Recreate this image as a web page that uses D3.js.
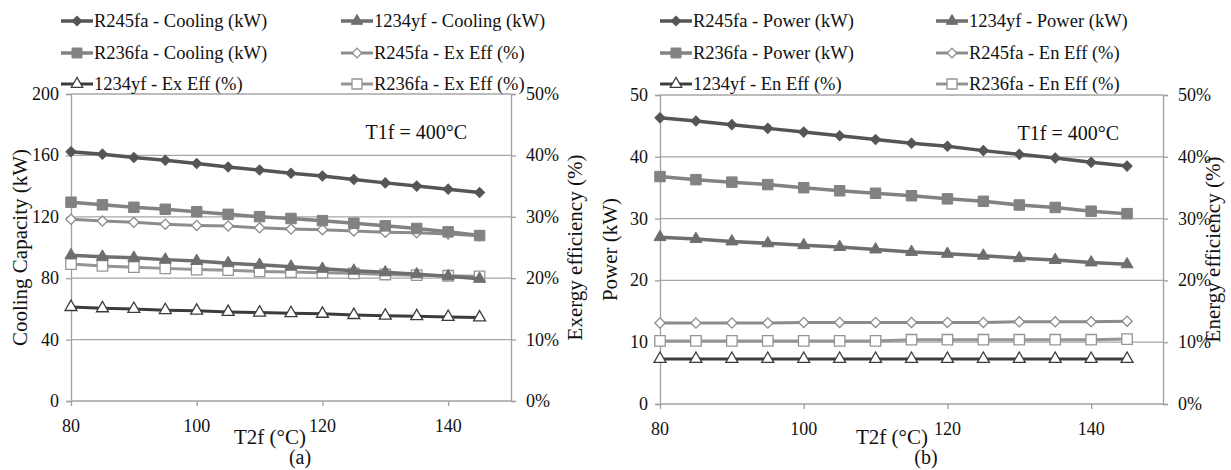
<!DOCTYPE html>
<html>
    <head>
        <meta charset='UTF-8'>
        <script src='https://d3js.org/d3.v7.min.js'></script>
        <style type='text/css'>
        body {
            margin: 0;
            background: white;
            font-family: 'Liberation Serif';
        }
        </style>
    </head>
    <body>
    <script>
        // temperatures on the x axis
        var t2f = [80, 85, 90, 95, 100, 105, 110, 115, 120, 125, 130, 135, 140, 145];
        var xTicks = [80, 100, 120, 140];

        // (a) cooling capacity (kW) and exergy efficiency (%)
        var coolR245fa  = [162.4, 160.8, 158.6, 156.8, 154.7, 152.4, 150.5, 148.4, 146.6, 144.3, 142.1, 140.0, 138.0, 135.8];
        var coolR1234yf = [95.0, 94.0, 93.3, 92.1, 91.2, 89.8, 88.7, 87.5, 86.1, 84.9, 83.8, 82.5, 81.3, 79.6];
        var coolR236fa  = [129.5, 127.8, 126.2, 124.9, 123.3, 121.6, 120.1, 118.9, 117.5, 115.8, 114.1, 112.4, 110.2, 107.8];
        var exR245fa    = [29.6, 29.3, 29.1, 28.8, 28.6, 28.5, 28.2, 28.0, 27.9, 27.7, 27.5, 27.4, 27.2, 26.9];
        var exR1234yf   = [15.3, 15.1, 15.0, 14.8, 14.7, 14.5, 14.4, 14.3, 14.2, 14.0, 13.9, 13.8, 13.7, 13.6];
        var exR236fa    = [22.3, 22.0, 21.8, 21.6, 21.4, 21.3, 21.1, 21.0, 20.9, 20.8, 20.6, 20.5, 20.4, 20.3];
        var coolTicks   = [0, 40, 80, 120, 160, 200];

        // (b) power (kW) and energy efficiency (%)
        var powR245fa   = [46.3, 45.8, 45.2, 44.6, 44.0, 43.4, 42.8, 42.2, 41.7, 41.0, 40.4, 39.8, 39.1, 38.5];
        var powR1234yf  = [27.0, 26.7, 26.3, 26.0, 25.7, 25.4, 25.0, 24.6, 24.3, 24.0, 23.6, 23.3, 22.9, 22.6];
        var powR236fa   = [36.8, 36.3, 35.9, 35.5, 35.0, 34.5, 34.1, 33.7, 33.2, 32.8, 32.2, 31.8, 31.2, 30.8];
        var enR245fa    = [13.1, 13.1, 13.1, 13.1, 13.2, 13.2, 13.2, 13.2, 13.2, 13.2, 13.3, 13.3, 13.3, 13.4];
        var enR1234yf   = [7.3, 7.3, 7.3, 7.3, 7.3, 7.3, 7.3, 7.3, 7.3, 7.3, 7.3, 7.3, 7.3, 7.3];
        var enR236fa    = [10.2, 10.2, 10.2, 10.2, 10.2, 10.2, 10.2, 10.4, 10.4, 10.4, 10.4, 10.4, 10.4, 10.5];
        var powTicks    = [0, 10, 20, 30, 40, 50];

        var pctTicks    = [0, 10, 20, 30, 40, 50];

        // series look, shared by both panels
        var looks = {
            r245:   {color: "#555555", shape: "diamond",  open: false, width: 3.5},
            r1234:  {color: "#6e6e6e", shape: "triangle", open: false, width: 3.5},
            r236:   {color: "#828282", shape: "square",   open: false, width: 3.5},
            r245e:  {color: "#8c8c8c", shape: "diamond",  open: true,  width: 3},
            r1234e: {color: "#3c3c3c", shape: "triangle", open: true,  width: 3},
            r236e:  {color: "#959595", shape: "square",   open: true,  width: 3}
        };

        var FONT = "'Liberation Serif', monospace";

        var W = 1231, H = 470;
        var svg = d3.select("body").append("svg")
            .attr("width", W)
            .attr("height", H);

        function label(g, txt, size) {
            return g.append("text")
                .attr("font-family", FONT)
                .attr("font-size", size)
                .attr("fill", "#111")
                .text(txt);
        }

        function marker(g, look, x, y, scale) {
            var s = scale || 1;
            var path;
            if (look.shape == "diamond") {
                path = d3.symbol().type(d3.symbolSquare).size(52 * s * s);
            } else if (look.shape == "square") {
                path = d3.symbol().type(d3.symbolSquare).size(110 * s * s);
            } else {
                path = d3.symbol().type(d3.symbolTriangle).size(62 * s * s);
            }
            g.append("path")
                .attr("d", path)
                .attr("fill", look.open ? "white" : look.color)
                .attr("stroke", look.color)
                .attr("stroke-width", look.open ? 1.3 : 1)
                .attr("transform", "translate(" + x + "," + y + ")" + (look.shape == "diamond" ? " rotate(45)" : ""));
        }

        function drawPanel(cfg) {
            var g = svg.append("g");

            var x = d3.scaleLinear().domain([80, 150]).range([cfg.left, cfg.right]);
            var yL = d3.scaleLinear().domain([0, cfg.leftMax]).range([cfg.bottom, cfg.top]);
            var yR = d3.scaleLinear().domain([0, 50]).range([cfg.bottom, cfg.top]);

            // horizontal gridlines
            g.append("g").selectAll("line")
                .data(cfg.leftTicks.slice(1))
                .enter().append("line")
                .attr("x1", cfg.left).attr("x2", cfg.right)
                .attr("y1", function(d) { return yL(d); })
                .attr("y2", function(d) { return yL(d); })
                .attr("stroke", "#a6a6a6")
                .attr("stroke-width", 1.3);

            // axes: d3 draws the lines and ticks, labels are placed from the same scales
            var axL = g.append("g")
                .attr("transform", "translate(" + cfg.left + ",0)")
                .call(d3.axisLeft(yL).tickValues(cfg.leftTicks).tickSize(5).tickFormat(""));
            var axR = g.append("g")
                .attr("transform", "translate(" + cfg.right + ",0)")
                .call(d3.axisRight(yR).tickValues(pctTicks).tickSize(5).tickFormat(""));
            var axB = g.append("g")
                .attr("transform", "translate(0," + cfg.bottom + ")")
                .call(d3.axisBottom(x).tickValues(xTicks).tickSize(5).tickFormat(""));

            [axL, axR, axB].forEach(function(ax) {
                ax.select(".domain").attr("stroke", "#a0a0a0").attr("stroke-width", 1.3);
                ax.selectAll(".tick line").attr("stroke", "#a0a0a0").attr("stroke-width", 1.3);
                ax.selectAll("text").remove();
            });
            axB.select(".domain").attr("d", "M" + cfg.left + ",0H" + cfg.right);

            cfg.leftTicks.forEach(function(t) {
                label(g, String(t), 18)
                    .attr("x", cfg.left - 12).attr("y", yL(t) + 6)
                    .attr("text-anchor", "end");
            });
            pctTicks.forEach(function(t) {
                label(g, t + "%", 18)
                    .attr("x", cfg.right + 15).attr("y", yR(t) + 6);
            });
            xTicks.forEach(function(t) {
                label(g, String(t), 18)
                    .attr("x", x(t)).attr("y", cfg.bottom + 31)
                    .attr("text-anchor", "middle");
            });

            // series
            cfg.series.forEach(function(s) {
                var look = looks[s.look];
                var y = s.axis == "right" ? yR : yL;
                var line = d3.line()
                    .x(function(d, i) { return x(t2f[i]); })
                    .y(function(d) { return y(d); });
                g.append("path")
                    .datum(s.values)
                    .attr("fill", "none")
                    .attr("stroke", look.color)
                    .attr("stroke-width", look.width)
                    .attr("stroke-linejoin", "round")
                    .attr("d", line);
                s.values.forEach(function(v, i) {
                    marker(g, look, x(t2f[i]), y(v));
                });
            });

            // legend, two columns, three rows
            cfg.legend.forEach(function(s, i) {
                var look = looks[s.look];
                var col = i % 2, row = Math.floor(i / 2);
                var lx = cfg.legendX[col], ly = cfg.legendY[row];
                g.append("line")
                    .attr("x1", lx).attr("x2", lx + 32)
                    .attr("y1", ly).attr("y2", ly)
                    .attr("stroke", look.color)
                    .attr("stroke-width", look.width);
                marker(g, look, lx + 16, ly, 0.95);
                label(g, s.name, 18.5)
                    .attr("x", lx + 33)
                    .attr("y", ly + 6);
            });

            // note
            label(g, "T1f = 400°C", 20)
                .attr("x", cfg.right - 44)
                .attr("y", cfg.top + 45)
                .attr("text-anchor", "end");

            // axis titles
            label(g, cfg.leftTitle, 21)
                .attr("transform", "translate(" + cfg.leftTitleX + "," + ((cfg.top + cfg.bottom) / 2) + ") rotate(-90)")
                .attr("text-anchor", "middle");
            label(g, cfg.rightTitle, 21)
                .attr("transform", "translate(" + cfg.rightTitleX + "," + ((cfg.top + cfg.bottom) / 2) + ") rotate(-90)")
                .attr("text-anchor", "middle");
            label(g, "T2f (°C)", 21)
                .attr("x", cfg.xTitleX)
                .attr("y", 444)
                .attr("text-anchor", "middle");
            label(g, cfg.caption, 20)
                .attr("x", cfg.captionX)
                .attr("y", 464)
                .attr("text-anchor", "middle");
        }

        drawPanel({
            left: 71, right: 511, top: 94, bottom: 401,
            leftMax: 200, leftTicks: coolTicks,
            series: [
                {look: "r245e", axis: "right", values: exR245fa},
                {look: "r1234e", axis: "right", values: exR1234yf},
                {look: "r236e", axis: "right", values: exR236fa},
                {look: "r245", axis: "left", values: coolR245fa},
                {look: "r236", axis: "left", values: coolR236fa},
                {look: "r1234", axis: "left", values: coolR1234yf}
            ],
            legend: [
                {look: "r245", name: "R245fa - Cooling (kW)"},
                {look: "r1234", name: "1234yf - Cooling (kW)"},
                {look: "r236", name: "R236fa - Cooling (kW)"},
                {look: "r245e", name: "R245fa - Ex Eff (%)"},
                {look: "r1234e", name: "1234yf - Ex Eff (%)"},
                {look: "r236e", name: "R236fa - Ex Eff (%)"}
            ],
            legendX: [61, 341], legendY: [21, 53, 84],
            leftTitle: "Cooling Capacity (kW)", leftTitleX: 27,
            rightTitle: "Exergy efficiency (%)", rightTitleX: 582,
            xTitleX: 270, captionX: 300, caption: "(a)"
        });

        drawPanel({
            left: 660, right: 1163, top: 95, bottom: 404,
            leftMax: 50, leftTicks: powTicks,
            series: [
                {look: "r245e", axis: "right", values: enR245fa},
                {look: "r1234e", axis: "right", values: enR1234yf},
                {look: "r236e", axis: "right", values: enR236fa},
                {look: "r245", axis: "left", values: powR245fa},
                {look: "r236", axis: "left", values: powR236fa},
                {look: "r1234", axis: "left", values: powR1234yf}
            ],
            legend: [
                {look: "r245", name: "R245fa - Power (kW)"},
                {look: "r1234", name: "1234yf - Power (kW)"},
                {look: "r236", name: "R236fa - Power (kW)"},
                {look: "r245e", name: "R245fa - En Eff (%)"},
                {look: "r1234e", name: "1234yf - En Eff (%)"},
                {look: "r236e", name: "R236fa - En Eff (%)"}
            ],
            legendX: [660, 936], legendY: [21, 53, 84],
            leftTitle: "Power (kW)", leftTitleX: 617,
            rightTitle: "Energy efficiency (%)", rightTitleX: 1220,
            xTitleX: 892, captionX: 926, caption: "(b)"
        });
    </script>
    </body>
</html>
